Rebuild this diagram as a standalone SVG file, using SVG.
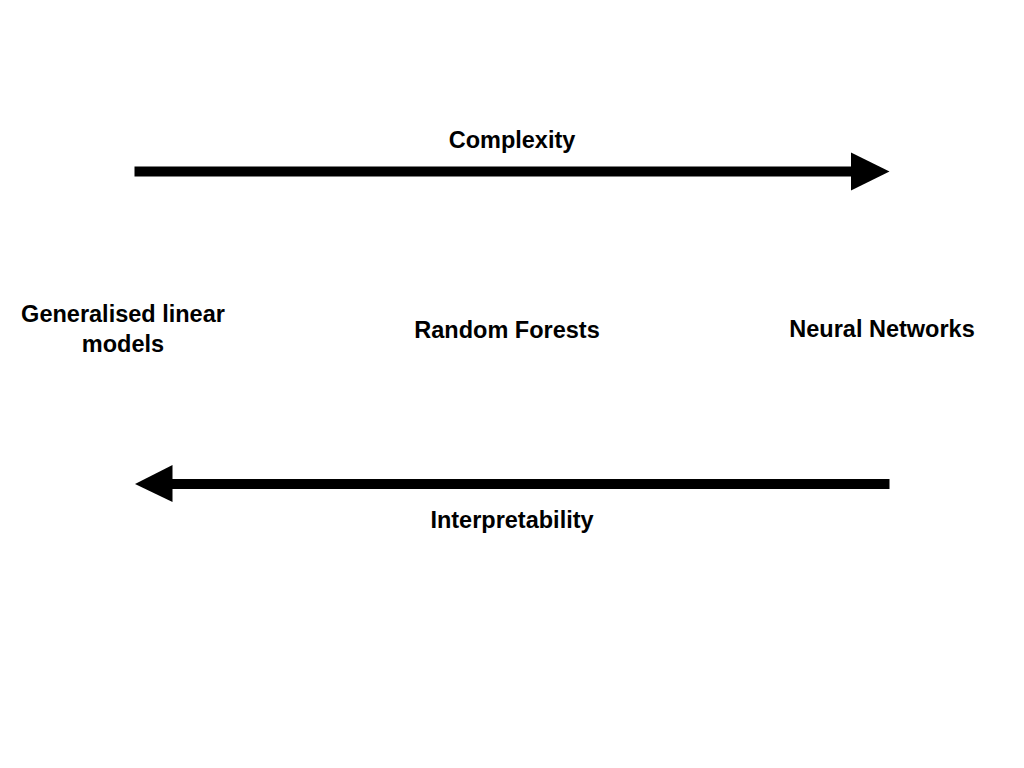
<svg xmlns="http://www.w3.org/2000/svg" width="1024" height="768" viewBox="0 0 1024 768">
<style>
text{font-family:"Liberation Sans",Arial,sans-serif;font-weight:bold;font-size:23.5px;fill:#000;text-anchor:middle}
.shaft{stroke:#000;stroke-width:10;fill:none}
</style>
<rect width="1024" height="768" fill="#fff"/>
<g id="connectors">
<g id="complexity-arrow">
<line class="shaft" x1="134.5" y1="171.5" x2="853" y2="171.5"/>
<polygon points="851,152.5 889.5,171.5 851,190.5" fill="#000"/>
<text x="512" y="148">Complexity</text>
</g>
<g id="interpretability-arrow">
<line class="shaft" x1="889.5" y1="484" x2="170" y2="484"/>
<polygon points="172.5,465 135,484 172.5,502" fill="#000"/>
<text x="512" y="528">Interpretability</text>
</g>
</g>
<g id="glm"><text x="123" y="322">Generalised linear</text><text x="123" y="352">models</text></g>
<g id="rf"><text x="507" y="338">Random Forests</text></g>
<g id="nn"><text x="882" y="337">Neural Networks</text></g>
</svg>
